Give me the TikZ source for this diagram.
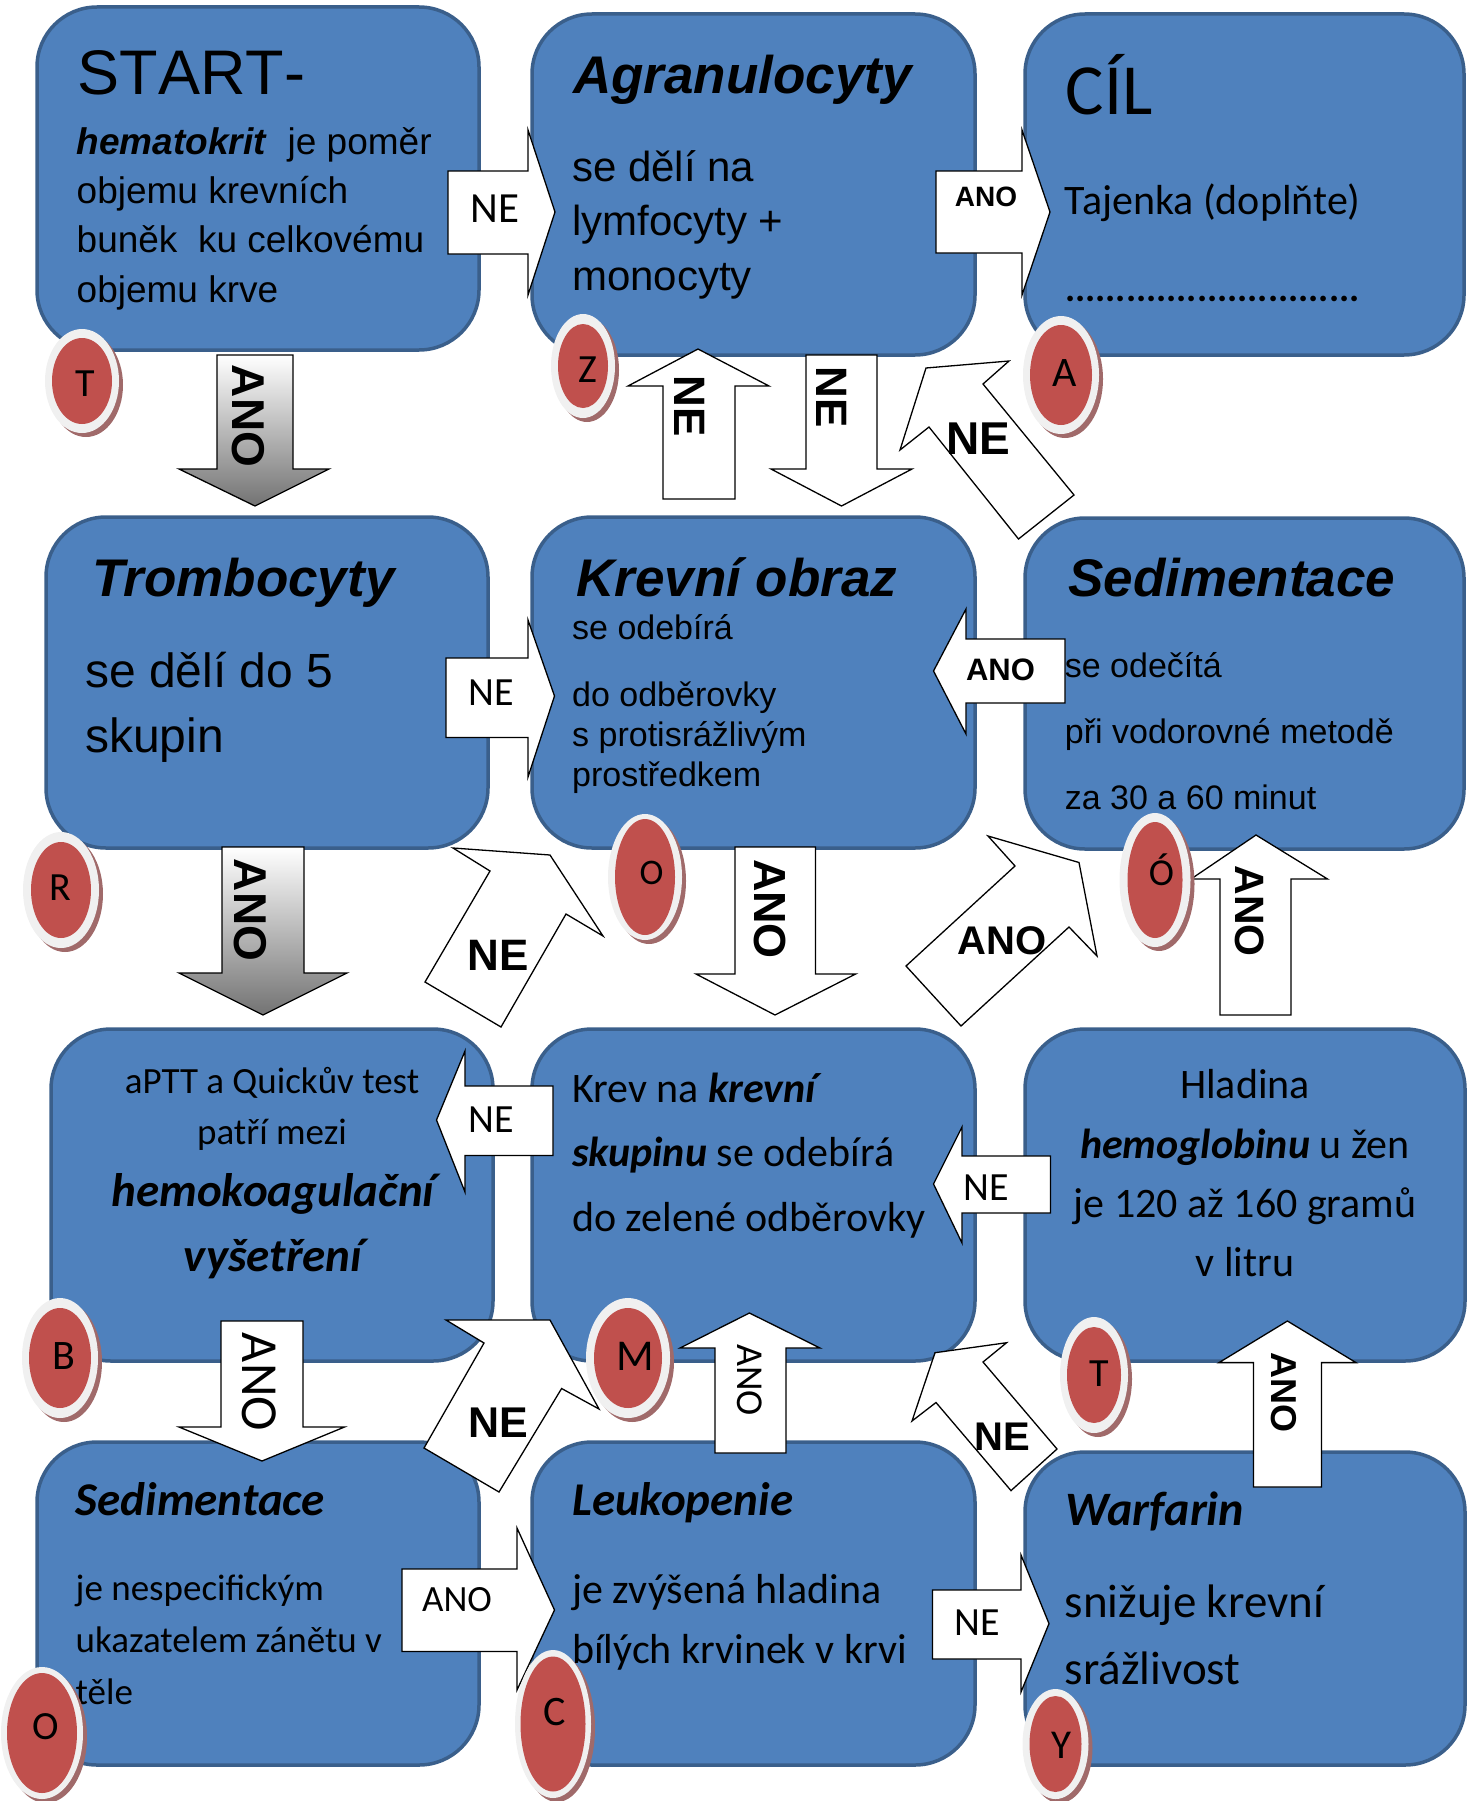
\documentclass[tikz,border=0pt]{standalone}
\usepackage{fontspec}
\setmainfont{Liberation Sans}
\newfontfamily\calib{Carlito}
\usepackage{xcolor}
\usepackage{tikz}
\definecolor{boxfill}{HTML}{4F81BD}
\definecolor{boxedge}{HTML}{3A5F8B}
\definecolor{dotred}{HTML}{C0504D}
\definecolor{ring}{HTML}{F0F0F0}
\definecolor{dotshadow}{HTML}{A06A6A}
\newcommand{\fsz}[2]{\fontsize{#1}{#2}\selectfont}

\begin{document}
\begin{tikzpicture}[x=1pt, y=-1pt,
    box/.style={draw=boxedge, line width=3.5pt, fill=boxfill, rounded corners=60pt},
    blk/.style={draw=black, line width=1.3pt, fill=white},
    gblk/.style={draw=black, line width=1.3pt, top color=white, bottom color=black!55},
    txt/.style={anchor=base west, align=left, inner sep=0pt},
    ctxt/.style={anchor=base, align=center, inner sep=0pt},
    lab/.style={inner sep=0pt},
    rot/.style={rotate=-90}]
\useasboundingbox (0,0) rectangle (1480,1801);
% boxes
\foreach \a/\b/\c/\d in {37/7/479/350, 532/14/975/355, 1025/14/1464/355,
    46/517/488/848, 532/517/975/848, 1025/518/1464/849,
    51/1029/493/1361, 532/1029/975/1361, 1025/1029/1465/1361,
    37/1442/479/1765, 532/1442/975/1765, 1025/1452/1465/1765}
    \draw[box] (\a,\b) rectangle (\c,\d);

% row 1 (multi-line texts sit on their last line)
\node[txt, font=\fsz{63}{70}\addfontfeature{Kerning=Off}] (start) at (77.5,95) {START-};
\node[txt, font=\fsz{37}{49.3}] (startb) at (76.5,302)
    {\textbf{\textit{hematokrit}}\ \ je poměr\\objemu krevních\\buněk\ \ ku celkovému\\objemu krve};
\node[txt, font=\fsz{53}{60}\bfseries\itshape] (agran) at (573,93.6) {Agranulocyty};
\node[txt, font=\fsz{42}{54.5}] (agranb) at (572,290) {se dělí na\\lymfocyty +\\monocyty};
\node[txt, font=\fsz{72}{80}\calib] (cil) at (1065.6,114) {CÍL};
\node[txt, font=\fsz{42}{50}\calib] (cilb) at (1064.7,214) {Tajenka (doplňte)};
\node[txt, font=\fsz{38}{50}\calib\bfseries] (cild) at (1065,301) {.............................};

% row 2
\node[txt, font=\fsz{53}{60}\bfseries\itshape] (tromb) at (92,596) {Trombocyty};
\node[txt, font=\fsz{48}{64.5}] (trombb) at (85,752) {se dělí do 5\\skupin};
\node[txt, font=\fsz{53}{60}\bfseries\itshape] (krev) at (576,596) {Krevní obraz};
\node[txt, font=\fsz{34}{40}] (krevb) at (572,786)
    {se odebírá\\[27pt]do odběrovky\\s protisrážlivým\\prostředkem};
\node[txt, font=\fsz{53}{60}\bfseries\itshape] (sedim) at (1068,596) {Sedimentace};
\node[txt, font=\fsz{34}{66}] (sedimb) at (1064.7,809)
    {se odečítá\\při vodorovné metodě\\za 30 a 60 minut};

% row 3
\node[ctxt, font=\fsz{37}{50.8}\calib] (aptt) at (272,1144.5) {aPTT a Quickův test\\patří mezi};
\node[ctxt, font=\fsz{47}{64.8}\calib\bfseries\itshape] (apttb) at (273,1271.5)
    {hemokoagulační\\vyšetření};
\node[txt, font=\fsz{42}{64.8}\calib] (skup) at (572,1231.6)
    {Krev na \textbf{\textit{krevní}}\\\textbf{\textit{skupinu}} se odebírá\\do zelené odběrovky};
\node[ctxt, font=\fsz{42}{59.3}\calib] (hlad) at (1245,1276.6)
    {Hladina\\\textbf{\textit{hemoglobinu}} u žen\\je 120 až 160 gramů\\v litru};

% row 4
\node[txt, font=\fsz{47}{55}\calib\bfseries\itshape] (sedim2) at (75.5,1515.5) {Sedimentace};
\node[txt, font=\fsz{37}{52.4}\calib] (sedim2b) at (75.5,1704.8)
    {je nespecifickým\\ukazatelem zánětu v\\těle};
\node[txt, font=\fsz{47}{55}\calib\bfseries\itshape] (leuko) at (572,1515.5) {Leukopenie};
\node[txt, font=\fsz{42}{59.7}\calib] (leukob) at (572,1663.4)
    {je zvýšená hladina\\bílých krvinek v krvi};
\node[txt, font=\fsz{48}{55}\calib\bfseries\itshape] (warf) at (1065.6,1525.5) {Warfarin};
\node[txt, font=\fsz{47}{67.2}\calib] (warfb) at (1064.7,1684.8) {snižuje krevní\\srážlivost};

% block arrows
\draw[gblk] (217,355) -- (293,355) -- (293,469) -- (329,469) -- (255,506) -- (179,469) -- (217,469) -- cycle;
\draw[gblk] (222,847) -- (304,847) -- (304,973) -- (347,973) -- (263,1015) -- (179,973) -- (222,973) -- cycle;
\draw[blk] (448,171) -- (528,171) -- (528,130) -- (555,212) -- (528,295) -- (528,254) -- (448,254) -- cycle;
\draw[blk] (936,171) -- (1022,171) -- (1022,130) -- (1050,212) -- (1022,295) -- (1022,253) -- (936,253) -- cycle;
\draw[blk] (663,499) -- (663,386) -- (628,386) -- (698,349) -- (769,386) -- (735,386) -- (735,499) -- cycle;
\draw[blk] (806,355) -- (877,355) -- (877,469) -- (912,469) -- (841.5,506) -- (771,469) -- (806,469) -- cycle;
\draw[blk] (1009,361) -- (926,368) -- (900,450) -- (929,427) -- (1018.5,539) -- (1074,495) -- (983,384) -- cycle;
\draw[blk] (1065,639) -- (966,639) -- (966,609) -- (933.5,671) -- (966,734) -- (966,703) -- (1065,703) -- cycle;
\draw[blk] (446,658) -- (528,658) -- (528,620) -- (554.5,696) -- (528,777) -- (528,737.5) -- (446,737.5) -- cycle;
\draw[blk] (453,848) -- (550,855) -- (603,936) -- (566,914) -- (501,1027) -- (425,982) -- (490,871) -- cycle;
\draw[blk] (735,847) -- (815.5,847) -- (815.5,974) -- (855.6,974) -- (775,1015) -- (696,974) -- (735,974) -- cycle;
\draw[blk] (1220,1015) -- (1220,879) -- (1191,879) -- (1256,835) -- (1327.5,879) -- (1291,879) -- (1291,1015) -- cycle;
\draw[blk] (988,836) -- (1079,862.5) -- (1097,956) -- (1069,927) -- (961,1026) -- (906,966) -- (1015,866) -- cycle;
\draw[blk] (553,1086) -- (465,1086) -- (465,1051) -- (436.5,1120) -- (465,1192) -- (465,1155.5) -- (553,1155.5) -- cycle;
\draw[blk] (1050.5,1156) -- (962,1156) -- (962,1127) -- (933.5,1184) -- (962,1243) -- (962,1213) -- (1050.5,1213) -- cycle;
\draw[blk] (221,1321) -- (303,1321) -- (303,1427) -- (344.5,1427) -- (262,1461) -- (179,1427) -- (221,1427) -- cycle;
\draw[blk] (446,1320) -- (550,1320) -- (599,1409) -- (561.6,1388.5) -- (499,1492) -- (424,1448) -- (484,1343) -- cycle;
\draw[blk] (715,1453) -- (715,1348) -- (680,1348) -- (749.4,1313) -- (820,1348) -- (786,1348) -- (786,1453) -- cycle;
\draw[blk] (1253.5,1487) -- (1253.5,1362.6) -- (1219,1362.6) -- (1287.4,1321) -- (1356,1362.6) -- (1321.4,1362.6) -- (1321.4,1487) -- cycle;
\draw[blk] (1006.6,1342.7) -- (935,1352.7) -- (912,1421) -- (936,1402.5) -- (1011,1490.6) -- (1057,1449) -- (983,1362) -- cycle;
\draw[blk] (402,1569) -- (517,1569) -- (517,1528) -- (554.5,1610) -- (517,1690) -- (517,1651.5) -- (402,1651.5) -- cycle;
\draw[blk] (932.5,1590) -- (1021,1590) -- (1021,1555) -- (1049,1623.6) -- (1021,1692) -- (1021,1659) -- (932.5,1659) -- cycle;

% arrow labels
\node[lab, rot, font=\fsz{46}{50}\bfseries] (l1) at (248,416) {ANO};
\node[lab, rot, font=\fsz{46}{50}\bfseries] (l2) at (250,910) {ANO};
\node[lab, font=\fsz{43}{50}\calib] (l3) at (495,209) {NE};
\node[lab, font=\fsz{28}{32}\bfseries] (l4) at (986,197) {ANO};
\node[lab, rot, font=\fsz{44}{50}\bfseries] (l5) at (690,406) {NE};
\node[lab, rot, font=\fsz{44}{50}\bfseries] (l6) at (832,397) {NE};
\node[lab, font=\fsz{46}{50}\bfseries] (l7) at (978,439) {NE};
\node[lab, font=\fsz{31}{36}\bfseries] (l8) at (1000.5,670) {ANO};
\node[lab, font=\fsz{40}{48}\calib] (l9) at (491,693) {NE};
\node[lab, font=\fsz{44}{50}\bfseries] (l10) at (498,955) {NE};
\node[lab, rot, font=\fsz{45}{50}\bfseries] (l11) at (770,909) {ANO};
\node[lab, rot, font=\fsz{41}{50}\bfseries] (l12) at (1250,911) {ANO};
\node[lab, font=\fsz{40}{48}\bfseries] (l13) at (1002,941) {ANO};
\node[lab, font=\fsz{40}{48}\calib] (l14) at (491,1120) {NE};
\node[lab, font=\fsz{40}{48}\calib] (l15) at (986,1188) {NE};
\node[lab, rot, font=\fsz{52}{58}\calib] (l16) at (259,1382) {ANO};
\node[lab, font=\fsz{43}{50}\bfseries] (l17) at (498,1423) {NE};
\node[lab, rot, font=\fsz{38}{44}\calib] (l18) at (750,1380) {ANO};
\node[lab, rot, font=\fsz{36}{44}\bfseries] (l19) at (1284,1392) {ANO};
\node[lab, font=\fsz{40}{48}\bfseries] (l20) at (1002,1437) {NE};
\node[lab, font=\fsz{37}{44}\calib] (l21) at (457,1600) {ANO};
\node[lab, font=\fsz{40}{48}\calib] (l22) at (977,1622.6) {NE};

% letter discs
\foreach \px/\py/\orx/\ory/\irx/\iry/\lx/\ly/\fs/\lt/\n in {
    82/381/37/52/30/43/85/384/40/T/dT,
    583/366/32/52/25/42/587.5/370/40/Z/dZ,
    1061/375/38/59/31/50/1064.7/373/42/A/dA,
    61/890/38/58/30/48/60/887.5/40/R/dR,
    645/877/37/63/30/58/651.5/873/36/O/dO,
    1155/880/35.5/67/27.5/58/1161.5/869.5/38/Ó/dOa,
    60/1358/38/60/31/50/64/1356/42/B/dB,
    628/1358/42/60/34/50/635/1356/44/M/dM,
    1094/1375/34/58/27/48/1099.6/1373.6/40/T/dTb,
    42/1733/41/66/35/60/46/1727/40/O/dOb,
    553/1724/38/74/32.5/67.5/555/1712/42/C/dC,
    1055.5/1744/33/55/26/48/1061/1745/41/Y/dY}
{
    \fill[dotshadow] (\px+4,\py+4) ellipse [x radius=\orx pt, y radius=\ory pt];
    \fill[ring] (\px,\py) ellipse [x radius=\orx pt, y radius=\ory pt];
    \fill[dotred] (\px,\py) ellipse [x radius=\irx pt, y radius=\iry pt];
    \node[font=\fsz{\fs}{\fs}\calib, inner sep=0pt] (\n) at (\lx,\ly) {\lt};
}
\end{tikzpicture}
\end{document}
